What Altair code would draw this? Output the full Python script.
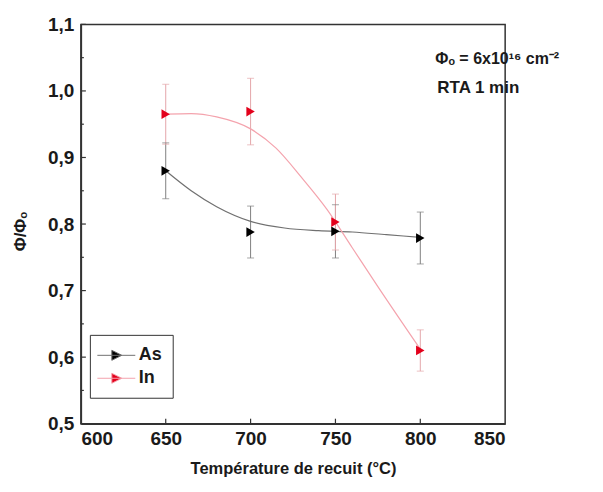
import altair as alt
import pandas as pd

# ---- data ----
temps = [650, 700, 750, 800]
as_vals = [0.880, 0.788, 0.789, 0.779]
as_err = [0.042, 0.039, 0.040, 0.039]
in_vals = [0.965, 0.969, 0.803, 0.610]
in_err = [0.045, 0.050, 0.042, 0.031]

# fitted curves
as_curve_t = [650, 665, 680, 700, 720, 740, 760, 780, 800]
as_curve_v = [0.880, 0.850, 0.826, 0.804, 0.794, 0.790, 0.788, 0.784, 0.780]
in_curve_t = [650, 665, 680, 700, 715, 730, 745, 760, 775, 800]
in_curve_v = [0.965, 0.966, 0.961, 0.943, 0.914, 0.870, 0.822, 0.764, 0.706, 0.612]

series = ["As", "In"]
point_colors = ["#000000", "#e3001b"]
curve_colors = ["#707070", "#f4a3ad"]
err_colors = ["#808080", "#e4a6aa"]

x_ticks = [600, 650, 700, 750, 800, 850]
x_inner_ticks = [650, 700, 750, 800]
y_major = [0.5, 0.6, 0.7, 0.8, 0.9, 1.0, 1.1]
y_minor = [0.55, 0.65, 0.75, 0.85, 0.95, 1.05]

W, H = 425, 400
FONT = "Liberation Sans"

pts = pd.DataFrame({
    "T": temps * 2,
    "v": as_vals + in_vals,
    "err": as_err + in_err,
    "s": ["As"] * 4 + ["In"] * 4,
})
pts["lo"] = pts["v"] - pts["err"]
pts["hi"] = pts["v"] + pts["err"]

curves = pd.DataFrame({
    "T": as_curve_t + in_curve_t,
    "v": as_curve_v + in_curve_v,
    "s": ["As"] * len(as_curve_t) + ["In"] * len(in_curve_t),
})

xs = alt.Scale(domain=[600, 850], nice=False, zero=False)
ys = alt.Scale(domain=[0.5, 1.1], nice=False, zero=False)

x_axis = alt.Axis(values=x_ticks, format="d", ticks=False, grid=False,
                  labelFont=FONT, labelFontWeight="bold", labelFontSize=19,
                  labelColor="#1a1a1a", labelPadding=6,
                  title="Température de recuit (°C)", titleFont=FONT,
                  titleFontWeight="bold", titleFontSize=16.5, titleColor="#1a1a1a",
                  titlePadding=12, domainColor="#333", domainWidth=1.5)
y_axis = alt.Axis(values=y_major, ticks=False, grid=False,
                  labelExpr="replace(format(datum.value, '.1f'), '.', ',')",
                  labelFont=FONT, labelFontWeight="bold", labelFontSize=19,
                  labelColor="#1a1a1a", labelPadding=7,
                  title="Φ/Φₒ", titleFont=FONT, titleFontWeight="bold",
                  titleFontSize=17, titleColor="#1a1a1a",
                  titleX=-51, titleY=207, titleAngle=-90,
                  domainColor="#333", domainWidth=1.5)

legend_path = "M-1.9,0H1.9M-0.45,-0.5L0.55,0L-0.45,0.5Z"
leg = dict(title=None, orient="none", legendX=9, legendY=311,
           strokeColor="#333", padding=10, symbolOffset=6,
           symbolType=legend_path, symbolSize=400,
           symbolStrokeWidth=1, labelOffset=12,
           labelFont=FONT, labelFontWeight="bold",
           labelFontSize=18, labelColor="#1a1a1a", rowPadding=3)

base_pts = alt.Chart(pts)
err_color = alt.Color("s:N", scale=alt.Scale(domain=series, range=err_colors), legend=None)

err_rule = base_pts.mark_rule(strokeWidth=1).encode(
    x=alt.X("T:Q", scale=xs, axis=x_axis),
    y=alt.Y("lo:Q", scale=ys, axis=y_axis),
    y2="hi:Q",
    color=err_color,
)
cap_lo = base_pts.mark_tick(orient="horizontal", size=7, thickness=1).encode(
    x=alt.X("T:Q", scale=xs), y=alt.Y("lo:Q", scale=ys), color=err_color)
cap_hi = base_pts.mark_tick(orient="horizontal", size=7, thickness=1).encode(
    x=alt.X("T:Q", scale=xs), y=alt.Y("hi:Q", scale=ys), color=err_color)

curve_layer = alt.Chart(curves).mark_line(strokeWidth=1.2, interpolate="monotone").encode(
    x=alt.X("T:Q", scale=xs), y=alt.Y("v:Q", scale=ys),
    detail="s:N",
    color=alt.Color("s:N", scale=alt.Scale(domain=series, range=curve_colors), legend=None),
)

point_layer = base_pts.mark_point(shape="triangle-right", filled=True, size=95,
                                  opacity=1, strokeWidth=0).encode(
    x=alt.X("T:Q", scale=xs), y=alt.Y("v:Q", scale=ys),
    fill=alt.Fill("s:N", scale=alt.Scale(domain=series, range=point_colors),
                  legend=alt.Legend(**leg)),
    stroke=alt.Stroke("s:N", scale=alt.Scale(domain=series, range=curve_colors),
                      legend=alt.Legend(**leg)),
)

# inward axis ticks
ytick_major = alt.Chart(pd.DataFrame({"v": y_major})).mark_rule(color="#333", strokeWidth=1.2).encode(
    y=alt.Y("v:Q", scale=ys), x=alt.value(0), x2=alt.value(5))
ytick_minor = alt.Chart(pd.DataFrame({"v": y_minor})).mark_rule(color="#333", strokeWidth=1.2).encode(
    y=alt.Y("v:Q", scale=ys), x=alt.value(0), x2=alt.value(3))
xtick_major = alt.Chart(pd.DataFrame({"t": x_inner_ticks})).mark_rule(color="#333", strokeWidth=1.2).encode(
    x=alt.X("t:Q", scale=xs), y=alt.value(H), y2=alt.value(H - 5))

ann1 = alt.Chart(pd.DataFrame({"t": ["Φₒ = 6x10¹⁶ cm⁻²"]})).mark_text(
    align="left", baseline="alphabetic", font=FONT, fontWeight="bold",
    fontSize=16, color="#1a1a1a").encode(text="t:N", x=alt.value(355), y=alt.value(40))
ann2 = alt.Chart(pd.DataFrame({"t": ["RTA 1 min"]})).mark_text(
    align="left", baseline="alphabetic", font=FONT, fontWeight="bold",
    fontSize=17, color="#1a1a1a").encode(text="t:N", x=alt.value(357), y=alt.value(69))

chart = alt.layer(
    err_rule, cap_lo, cap_hi, curve_layer, point_layer,
    ytick_major, ytick_minor, xtick_major, ann1, ann2,
).resolve_scale(color="independent").properties(
    width=W, height=H, autosize="none",
    padding={"left": 73, "top": 16, "right": 90, "bottom": 60},
    background="white",
).configure_view(stroke="#333", strokeWidth=1.5)

chart.save("out.html", embed_options={"renderer": "svg", "actions": False})
